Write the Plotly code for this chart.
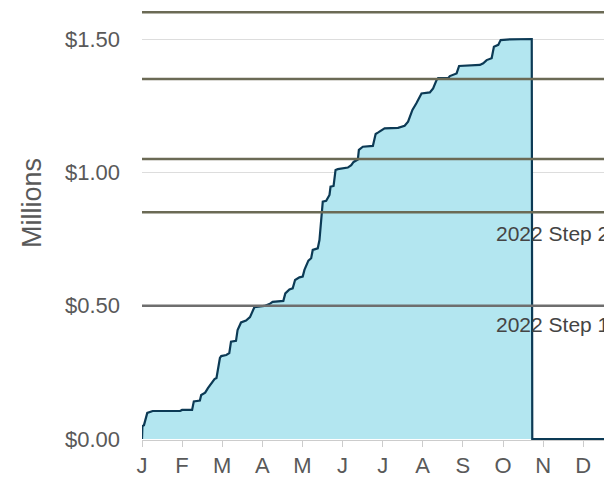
import plotly.graph_objects as go

# ---- data ----
day_of_year = [0, 0.3, 1.5, 4.0, 8.1, 28.9, 30.4, 38.0, 39.3, 43.9, 44.9, 47.9, 50.0, 53.2, 55.0,
               56.5, 59.1, 60.1, 63.9, 66.2, 67.5, 71.3, 72.5, 75.1, 78.9, 81.9, 83.4, 85.2, 92.8,
               96.6, 99.1, 107.2, 108.7, 111.8, 114.3, 116.1, 119.4, 121.9, 123.2, 126.2, 128.3,
               129.5, 130.8, 133.3, 134.6, 135.9, 137.1, 139.7, 142.2, 143.0, 145.3, 146.8, 148.5,
               156.1, 158.7, 160.5, 163.7, 164.5, 167.5, 175.1, 177.2, 178.9, 184.0, 194.2, 199.2,
               201.8, 205.1, 208.1, 212.0, 218.3, 220.8, 223.4, 224.6, 232.2, 233.5, 238.6, 240.5,
               256.3, 258.8, 261.4, 265.2, 266.9, 270.2, 272.0, 279.1, 295.6, 296.0, 364.0]
cumulative_millions = [0.000, 0.049, 0.052, 0.098, 0.105, 0.105, 0.109, 0.109, 0.141, 0.144, 0.165,
                       0.174, 0.191, 0.210, 0.225, 0.229, 0.304, 0.311, 0.315, 0.322, 0.365, 0.368,
                       0.409, 0.437, 0.444, 0.457, 0.474, 0.494, 0.499, 0.506, 0.514, 0.518, 0.546,
                       0.561, 0.565, 0.596, 0.606, 0.609, 0.634, 0.669, 0.678, 0.709, 0.711, 0.715,
                       0.746, 0.834, 0.890, 0.893, 0.915, 0.946, 0.949, 1.009, 1.012, 1.018, 1.027,
                       1.039, 1.048, 1.084, 1.096, 1.099, 1.144, 1.149, 1.165, 1.167, 1.175, 1.190,
                       1.234, 1.259, 1.296, 1.300, 1.315, 1.346, 1.353, 1.353, 1.361, 1.371, 1.399,
                       1.403, 1.409, 1.421, 1.428, 1.471, 1.478, 1.496, 1.499, 1.500, 0.000, 0.000]

month_start_days = [0, 30.4, 60.8, 91.3, 121.7, 152.1, 182.5, 212.9, 243.3, 273.8, 304.2, 334.6]
month_labels = ["J", "F", "M", "A", "M", "J", "J", "A", "S", "O", "N", "D"]

y_tick_vals = [0, 0.5, 1.0, 1.5]
y_tick_labels = ["$0.00", "$0.50", "$1.00", "$1.50"]

threshold_values = [1.6, 1.35, 1.05, 0.85, 0.5]
threshold_colors = ["#6b6a55", "#6b6a55", "#6b6a55", "#6b6a55", "#6e6e6e"]

step_labels = ["2022 Step 2", "2022 Step 1"]
step_label_y = [0.769, 0.431]
step_label_day = [266.6, 266.6]

# ---- figure ----
fig = go.Figure()
fig.add_trace(go.Scatter(
    x=day_of_year, y=cumulative_millions, mode="lines",
    line=dict(color="#0c3a55", width=2.2),
    fill="tozeroy", fillcolor="#b3e6f0",
    hoverinfo="skip", showlegend=False,
))

for v, c in zip(threshold_values, threshold_colors):
    fig.add_shape(type="line", xref="paper", x0=0, x1=1, yref="y", y0=v, y1=v,
                  line=dict(color=c, width=2.5), layer="above")

for t, yv, xv in zip(step_labels, step_label_y, step_label_day):
    fig.add_annotation(x=xv, y=yv, xref="x", yref="y", text=t, showarrow=False,
                       xanchor="left", yanchor="middle",
                       font=dict(size=21, color="#444444"))

# rotated axis title
fig.add_annotation(xref="paper", yref="paper",
                   x=(31.5 - 142) / 462, y=1 - 203.5 / 440, text="Millions",
                   showarrow=False, textangle=-90, xanchor="center", yanchor="middle",
                   font=dict(size=27, color="#595959"))

fig.update_layout(
    width=604, height=478,
    margin=dict(l=142, r=0, t=0, b=38),
    paper_bgcolor="white", plot_bgcolor="white",
    font=dict(family="Liberation Sans, Arial", color="#595959"),
    xaxis=dict(
        range=[0, 350.4], tickvals=month_start_days, ticktext=month_labels,
        showgrid=False, zeroline=False,
        showline=True, linecolor="#cccccc", linewidth=1,
        ticks="outside", ticklen=6, tickcolor="#cccccc",
        tickfont=dict(size=22, color="#595959"),
    ),
    yaxis=dict(
        range=[-0.00375, 1.6463], tickvals=y_tick_vals, ticktext=y_tick_labels,
        showgrid=True, gridcolor="#dddddd", gridwidth=1, zeroline=False,
        ticks="", ticklabelstandoff=21,
        tickfont=dict(size=22, color="#595959"),
    ),
)

fig.write_html(
    "out.html",
    config={"displayModeBar": False},
    post_script="document.body.style.margin='0';"
                "document.documentElement.style.overflow='hidden';"
                "document.body.style.overflow='hidden';",
)
